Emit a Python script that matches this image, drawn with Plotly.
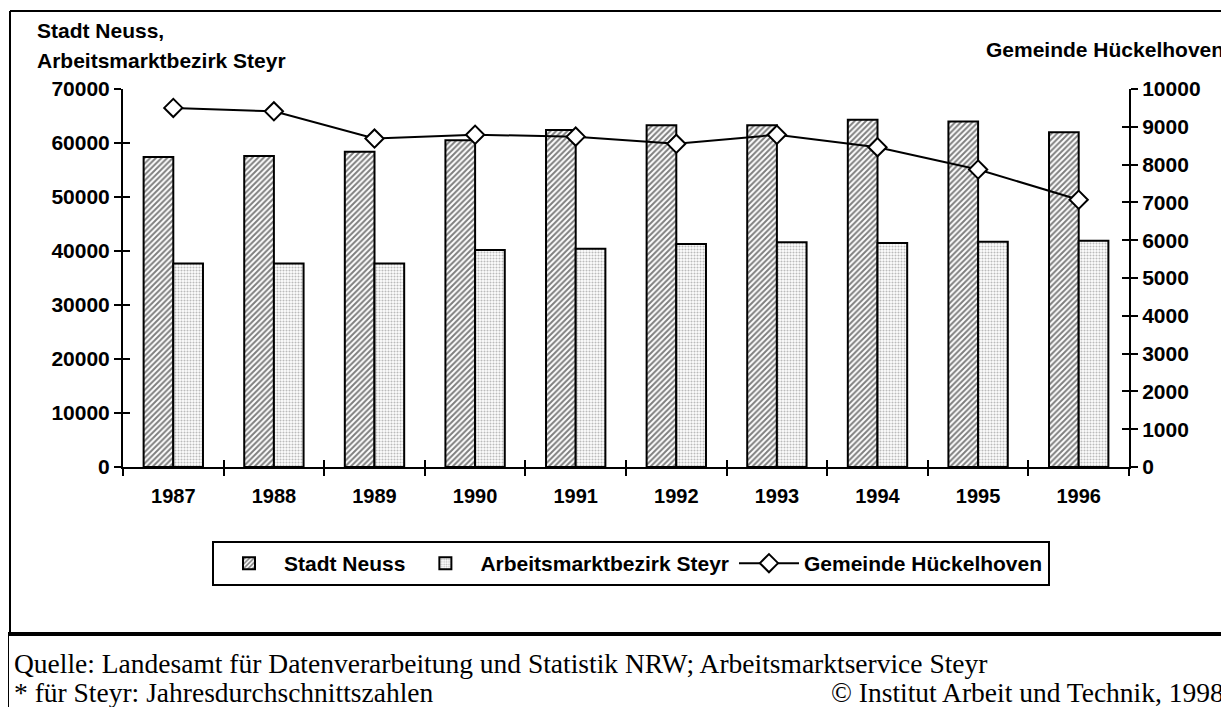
import plotly.graph_objects as go

# data
years = ["1987", "1988", "1989", "1990", "1991", "1992", "1993", "1994", "1995", "1996"]
neuss = [57400, 57600, 58400, 60500, 62400, 63300, 63300, 64300, 64000, 62000]
steyr = [37700, 37700, 37700, 40200, 40400, 41300, 41600, 41500, 41700, 41900]
hueckelhoven = [9500, 9410, 8690, 8790, 8740, 8550, 8790, 8460, 7870, 7070]

left_ticks = [0, 10000, 20000, 30000, 40000, 50000, 60000, 70000]
right_ticks = [0, 1000, 2000, 3000, 4000, 5000, 6000, 7000, 8000, 9000, 10000]

# the page body adds an 8px margin, so the figure is drawn 8px smaller and
# all pixel positions below are given in screen coordinates, then shifted
OFF = 8
W, H = 1229 - OFF, 707 - OFF
L, R, T, B = 123, 1129, 89, 467  # plot area on screen


def px(x):
    return (x - L) / (R - L)


def py(y):
    return (B - y) / (B - T)


SANS = "Liberation Sans, Arial, sans-serif"
SERIF = "Liberation Serif, Times New Roman, serif"
bold = dict(family=SANS, size=21, color="black", weight="bold")

fig = go.Figure()

fig.add_trace(go.Bar(
    x=years, y=neuss, name="Stadt Neuss",
    marker=dict(
        color="white",
        line=dict(color="black", width=2),
        pattern=dict(shape="/", fgcolor="black", bgcolor="white", size=4, solidity=0.5),
    ),
))
fig.add_trace(go.Bar(
    x=years, y=steyr, name="Arbeitsmarktbezirk Steyr",
    marker=dict(
        color="white",
        line=dict(color="black", width=2),
        pattern=dict(shape=".", fgcolor="#777777", bgcolor="white", size=3, solidity=0.4),
    ),
))
fig.add_trace(go.Scatter(
    x=years, y=hueckelhoven, name="Gemeinde Hückelhoven", yaxis="y2",
    mode="lines+markers",
    line=dict(color="black", width=2),
    marker=dict(symbol="diamond", size=14, color="white", line=dict(color="black", width=2)),
))

# empty helper traces so the overlay axes (inner halves of the crossing ticks) get drawn
fig.add_trace(go.Scatter(x=[], y=[], xaxis="x2", yaxis="y3", showlegend=False, hoverinfo="skip"))
fig.add_trace(go.Scatter(x=[], y=[], xaxis="x2", yaxis="y4", showlegend=False, hoverinfo="skip"))

axis_common = dict(showgrid=False, zeroline=False, showline=True, linecolor="black", linewidth=2,
                   ticks="outside", ticklen=7, tickwidth=2, tickcolor="black", tickfont=bold)
inner_ticks = dict(ticks="inside", ticklen=7, tickwidth=2, tickcolor="black", showticklabels=False,
                   showgrid=False, zeroline=False, showline=False)

fig.update_layout(
    width=W, height=H,
    margin=dict(l=L - OFF, r=1229 - R, t=T - OFF, b=707 - B),
    plot_bgcolor="white", paper_bgcolor="white",
    barmode="group", bargap=0.41, bargroupgap=0,
    showlegend=True,
    xaxis=dict(**{**axis_common, "tickfont": dict(bold, size=20)}, type="category",
               tickson="boundaries", range=[-0.5, 9.5], ticklabelstandoff=10),
    xaxis2=dict(**inner_ticks, overlaying="x", anchor="y", side="bottom", range=[-0.5, 9.5],
                tickvals=[i - 0.5 for i in range(11)]),
    yaxis=dict(**axis_common, range=[0, 70000], tickvals=left_ticks, tickformat="d"),
    yaxis2=dict(**axis_common, range=[0, 10000], tickvals=right_ticks, tickformat="d",
                overlaying="y", side="right", anchor="x"),
    yaxis3=dict(**inner_ticks, overlaying="y", anchor="x", side="left", range=[0, 70000],
                tickvals=left_ticks),
    yaxis4=dict(**inner_ticks, overlaying="y", anchor="x", side="right", range=[0, 10000],
                tickvals=right_ticks),
    legend=dict(
        orientation="h", x=px(212), y=py(541), xanchor="left", yanchor="top",
        bordercolor="black", borderwidth=2, bgcolor="white",
        font=dict(family=SANS, size=21, color="black", weight="bold"),
        itemwidth=60, tracegroupgap=0,
    ),
    font=dict(family=SANS, color="black"),
)

serif = dict(family=SERIF, size=27.5, color="black")
annotations = [
    dict(text="Stadt Neuss,", x=px(35), y=py(30), xanchor="left", yanchor="middle", font=bold),
    dict(text="Arbeitsmarktbezirk Steyr", x=px(35), y=py(61), xanchor="left", yanchor="middle", font=bold),
    dict(text="Gemeinde Hückelhoven", x=px(1226), y=py(50), xanchor="right", yanchor="middle", font=bold),
    dict(text="Quelle: Landesamt für Datenverarbeitung und Statistik NRW; Arbeitsmarktservice Steyr",
         x=px(12), y=py(663), xanchor="left", yanchor="middle", font=serif),
    dict(text="* für Steyr: Jahresdurchschnittszahlen",
         x=px(12), y=py(692), xanchor="left", yanchor="middle", font=serif),
    dict(text="© Institut Arbeit und Technik, 1998",
         x=px(1226), y=py(692), xanchor="right", yanchor="middle", font=serif),
]
for a in annotations:
    a.update(xref="paper", yref="paper", showarrow=False)
fig.update_layout(annotations=annotations)

# outer frame lines (screen pixels)
frame = [
    (10, 11, 10, 634, 2),
    (10, 11, 1240, 11, 2),
    (8, 634, 1240, 634, 4),
    (8, 634, 8, 720, 2),
]
fig.update_layout(shapes=[
    dict(type="line", xref="paper", yref="paper", x0=px(a), y0=py(b), x1=px(c), y1=py(d),
         line=dict(color="black", width=w))
    for a, b, c, d, w in frame
])

fig.write_html("out.html")
